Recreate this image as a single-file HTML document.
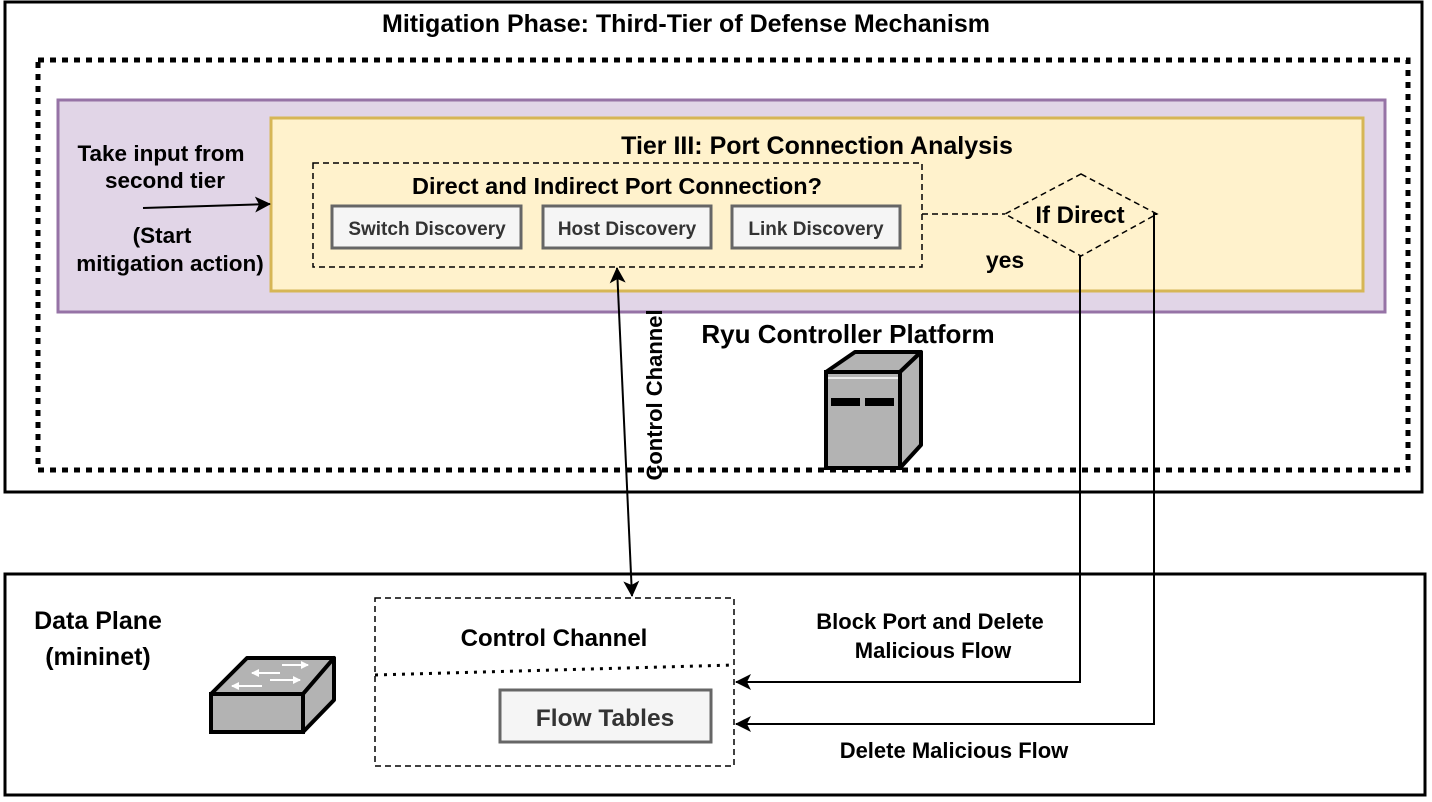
<!DOCTYPE html>
<html><head><meta charset="utf-8"><style>
html,body{margin:0;padding:0;background:#fff;}
svg text{font-family:"Liberation Sans",Arial,sans-serif;font-weight:bold;fill:#000;}
</style></head><body>
<svg width="1432" height="797" viewBox="0 0 1432 797" xmlns="http://www.w3.org/2000/svg">
<defs>
<marker id="ahs" markerWidth="16" markerHeight="16" refX="15" refY="8" orient="auto-start-reverse" markerUnits="userSpaceOnUse" viewBox="0 0 16 16">
<path d="M0,0 L16,8 L0,16 L4,8 z" fill="#000"/></marker>
<marker id="wa" markerWidth="8" markerHeight="8" refX="7" refY="4" orient="auto" markerUnits="userSpaceOnUse" viewBox="0 0 8 8">
<path d="M0,0 L8,4 L0,8 z" fill="#fff"/></marker>
</defs>
<rect x="5" y="2" width="1417" height="490" fill="#fff" stroke="#000" stroke-width="3"/>
<text x="686" y="32" font-size="25" text-anchor="middle">Mitigation Phase: Third-Tier of Defense Mechanism</text>
<rect x="38" y="60" width="1370" height="410" fill="none" stroke="#000" stroke-width="5" stroke-dasharray="6,6"/>
<rect x="58" y="100" width="1327" height="212" fill="#e1d5e7" stroke="#9673a6" stroke-width="3"/>
<rect x="271" y="118" width="1092" height="173" fill="#fff2cc" stroke="#d6b656" stroke-width="3"/>
<text x="817" y="154" font-size="25" text-anchor="middle">Tier III: Port Connection Analysis</text>
<text x="161" y="161" font-size="22.5" text-anchor="middle">Take input from</text>
<text x="165" y="188" font-size="22.5" text-anchor="middle">second tier</text>
<text x="162" y="243" font-size="22.5" text-anchor="middle">(Start</text>
<text x="170" y="271" font-size="22.5" text-anchor="middle">mitigation action)</text>
<line x1="143" y1="208" x2="270" y2="204" stroke="#000" stroke-width="2" marker-end="url(#ahs)"/>
<rect x="313" y="163" width="609" height="104" fill="none" stroke="#000" stroke-width="1.5" stroke-dasharray="6,4"/>
<text x="617" y="194" font-size="23.5" text-anchor="middle">Direct and Indirect Port Connection?</text>
<rect x="332" y="206" width="189" height="42" fill="#f5f5f5" stroke="#666" stroke-width="3"/>
<text x="427" y="235" font-size="19" text-anchor="middle" style="fill:#333">Switch Discovery</text>
<rect x="543" y="206" width="168" height="42" fill="#f5f5f5" stroke="#666" stroke-width="3"/>
<text x="627" y="235" font-size="19" text-anchor="middle" style="fill:#333">Host Discovery</text>
<rect x="732" y="206" width="168" height="42" fill="#f5f5f5" stroke="#666" stroke-width="3"/>
<text x="816" y="235" font-size="19" text-anchor="middle" style="fill:#333">Link Discovery</text>
<line x1="922" y1="214" x2="1005" y2="214" stroke="#000" stroke-width="1.5" stroke-dasharray="6,4"/>
<polygon points="1081,174 1157,214 1081,256 1005,214" fill="#fff2cc" stroke="#000" stroke-width="1.5" stroke-dasharray="6,4"/>
<text x="1080" y="223" font-size="24" text-anchor="middle">If Direct</text>
<text x="1005" y="268" font-size="23" text-anchor="middle">yes</text>
<text x="848" y="343" font-size="26" text-anchor="middle">Ryu Controller Platform</text>
<!-- server -->
<polygon points="826,372 855,352 921,352 900,372" fill="#b3b3b3" stroke="#000" stroke-width="4" stroke-linejoin="round"/>
<polygon points="900,372 921,352 921,445 900,468" fill="#b3b3b3" stroke="#000" stroke-width="4" stroke-linejoin="round"/>
<rect x="826" y="372" width="74" height="96" fill="#b3b3b3" stroke="#000" stroke-width="4"/>
<line x1="828" y1="378" x2="898" y2="378" stroke="#fff" stroke-width="1.5"/>
<rect x="831" y="398" width="29" height="8" fill="#000"/><rect x="865" y="398" width="29" height="8" fill="#000"/>
<!-- control channel -->
<line x1="617" y1="268" x2="632" y2="596" stroke="#000" stroke-width="2" marker-start="url(#ahs)" marker-end="url(#ahs)"/>
<text x="0" y="0" font-size="22" text-anchor="middle" transform="translate(662,395) rotate(-90)">Control Channel</text>
<!-- bottom -->
<rect x="5" y="574" width="1420" height="221" fill="none" stroke="#000" stroke-width="3"/>
<text x="98" y="629" font-size="25" text-anchor="middle">Data Plane</text>
<text x="98" y="665" font-size="25" text-anchor="middle">(mininet)</text>
<polygon points="211,694 247,658 334,658 303,694" fill="#b3b3b3" stroke="#000" stroke-width="4" stroke-linejoin="round"/>
<polygon points="303,694 334,658 334,700 303,732" fill="#b3b3b3" stroke="#000" stroke-width="4" stroke-linejoin="round"/>
<rect x="211" y="694" width="92" height="38" fill="#b3b3b3" stroke="#000" stroke-width="4"/>
<g stroke="#fff" stroke-width="2">
<line x1="282" y1="665" x2="308" y2="665" marker-end="url(#wa)"/>
<line x1="280" y1="673" x2="252" y2="673" marker-end="url(#wa)"/>
<line x1="270" y1="680" x2="300" y2="680" marker-end="url(#wa)"/>
<line x1="262" y1="686" x2="232" y2="686" marker-end="url(#wa)"/></g>
<rect x="375" y="598" width="359" height="168" fill="none" stroke="#000" stroke-width="1.5" stroke-dasharray="6,4"/>
<text x="554" y="646" font-size="24" text-anchor="middle">Control Channel</text>
<line x1="375" y1="675" x2="734" y2="665" stroke="#000" stroke-width="3" stroke-dasharray="3,6"/>
<rect x="500" y="690" width="211" height="52" fill="#f5f5f5" stroke="#666" stroke-width="3"/>
<text x="605" y="726" font-size="24.5" text-anchor="middle" style="fill:#333">Flow Tables</text>
<polyline points="1080,256 1080,682 736,682" fill="none" stroke="#000" stroke-width="2" marker-end="url(#ahs)"/>
<polyline points="1157,214 1154,214 1154,724 736,724" fill="none" stroke="#000" stroke-width="2" marker-end="url(#ahs)"/>
<text x="930" y="629" font-size="22" text-anchor="middle">Block Port and Delete</text>
<text x="933" y="658" font-size="22" text-anchor="middle">Malicious Flow</text>
<text x="954" y="758" font-size="22" text-anchor="middle">Delete Malicious Flow</text>
</svg>
</body></html>
